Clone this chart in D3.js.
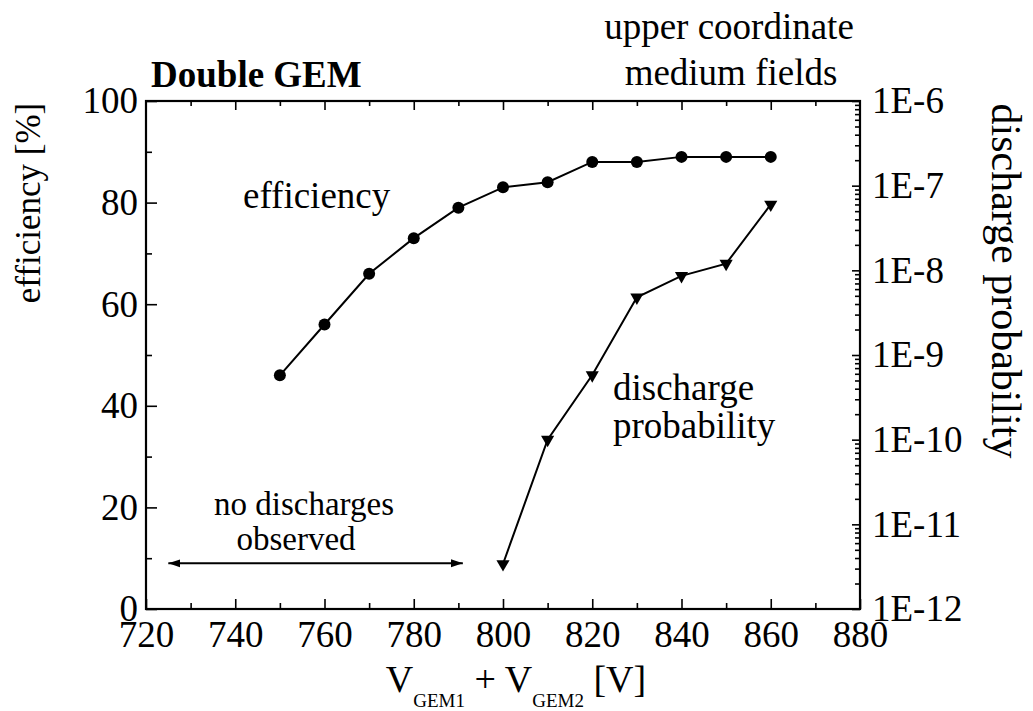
<!DOCTYPE html>
<html>
<head>
<meta charset="utf-8">
<script src="https://cdn.jsdelivr.net/npm/d3@7"></script>
<style>
  body { margin: 0; background: #fff; }
  svg text { font-family: "Liberation Serif", "Times New Roman", serif; fill: #000; }
</style>
</head>
<body>
<svg id="chart"></svg>
<script>
const width = 1033;
const height = 711;
const margin = {left: 146, right: 173, top: 101, bottom: 102};

// efficiency curve (left axis, %)
const eff_volts = [750, 760, 770, 780, 790, 800, 810, 820, 830, 840, 850, 860];
const eff_vals = [46, 56, 66, 73, 79, 83, 84, 88, 88, 89, 89, 89];

// discharge probability (right axis, log)
const dis_volts = [800, 810, 820, 830, 840, 850, 860];
const dis_vals = [3.4e-12, 1.0e-10, 5.8e-10, 4.8e-9, 8.6e-9, 1.2e-8, 6.0e-8];

// "no discharges observed" arrow: voltage span, efficiency level
const arrow_span = [725, 791];
const arrow_level = 9;

const x_domain = [720, 880];
const y_left_domain = [0, 100];
const y_right_domain = [1e-12, 1e-6];

const svg = d3.select('#chart')
    .attr('width', width)
    .attr('height', height);

const x = d3.scaleLinear(x_domain, [margin.left, width - margin.right]);
const yL = d3.scaleLinear(y_left_domain, [height - margin.bottom, margin.top]);
const yR = d3.scaleLog(y_right_domain, [height - margin.bottom, margin.top]);

const x0 = margin.left, x1 = width - margin.right;
const y0 = height - margin.bottom, y1 = margin.top;

const tickFont = '37px';

function styleAxis(g) {
    g.select('.domain').remove();
    g.selectAll('line').attr('stroke', '#000').attr('stroke-width', 1.6);
    g.selectAll('text').style('font-size', tickFont).attr('fill', '#000');
}

// minor ticks
svg.append('g').attr('transform', `translate(${x0},0)`)
    .call(d3.axisLeft(yL).tickValues(d3.range(10, 100, 20)).tickSize(-6).tickFormat(''))
    .call(styleAxis);
svg.append('g').attr('transform', `translate(0,${y0})`)
    .call(d3.axisBottom(x).tickValues(d3.range(730, 880, 20)).tickSize(-6).tickFormat(''))
    .call(styleAxis);
svg.append('g').attr('transform', `translate(0,${y1})`)
    .call(d3.axisTop(x).tickValues(d3.range(730, 880, 20)).tickSize(-5).tickFormat(''))
    .call(styleAxis);

// major ticks
svg.append('g').attr('transform', `translate(${x0},0)`)
    .call(d3.axisLeft(yL).tickValues(d3.range(0, 101, 20)).tickSize(-11).tickPadding(8))
    .call(styleAxis);
svg.append('g').attr('transform', `translate(0,${y0})`)
    .call(d3.axisBottom(x).tickValues(d3.range(720, 881, 20)).tickSize(-10).tickPadding(12))
    .call(styleAxis);
svg.append('g').attr('transform', `translate(0,${y1})`)
    .call(d3.axisTop(x).tickValues(d3.range(740, 880, 20)).tickSize(-9).tickFormat(''))
    .call(styleAxis);

// right log axis
const decades = d3.range(-12, -5).map(e => Math.pow(10, e));
const minors = yR.ticks().filter(v => Math.abs(Math.log10(v) - Math.round(Math.log10(v))) > 1e-6);
svg.append('g').attr('transform', `translate(${x1},0)`)
    .call(d3.axisRight(yR).tickValues(minors).tickSize(-5).tickFormat(''))
    .call(styleAxis);
svg.append('g').attr('transform', `translate(${x1},0)`)
    .call(d3.axisRight(yR).tickValues(decades).tickSize(-8).tickPadding(12)
        .tickFormat(d => '1E' + Math.round(Math.log10(d))))
    .call(styleAxis);

// frame
svg.append('rect')
    .attr('x', x0).attr('y', y1)
    .attr('width', x1 - x0).attr('height', y0 - y1)
    .attr('fill', 'none').attr('stroke', '#000').attr('stroke-width', 2.2);

// efficiency line
const effData = eff_volts.map((v, i) => [v, eff_vals[i]]);
svg.append('path')
    .datum(effData)
    .attr('d', d3.line().x(d => x(d[0])).y(d => yL(d[1])))
    .attr('fill', 'none').attr('stroke', '#000').attr('stroke-width', 2);
svg.selectAll('.eff_mark')
    .data(effData)
    .enter().append('circle')
    .attr('class', 'eff_mark')
    .attr('cx', d => x(d[0]))
    .attr('cy', d => yL(d[1]))
    .attr('r', 6)
    .attr('fill', '#000');

// discharge line
const disData = dis_volts.map((v, i) => [v, dis_vals[i]]);
svg.append('path')
    .datum(disData)
    .attr('d', d3.line().x(d => x(d[0])).y(d => yR(d[1])))
    .attr('fill', 'none').attr('stroke', '#000').attr('stroke-width', 2);
svg.selectAll('.dis_mark')
    .data(disData)
    .enter().append('path')
    .attr('class', 'dis_mark')
    .attr('d', d3.symbol(d3.symbolTriangle, 75))
    .attr('transform', d => `translate(${x(d[0])},${yR(d[1])}) rotate(180)`)
    .attr('fill', '#000');

// arrow
const defs = svg.append('defs');
defs.append('marker')
    .attr('id', 'arrowhead')
    .attr('viewBox', '0 -5 12 10')
    .attr('refX', 12).attr('refY', 0)
    .attr('markerWidth', 12).attr('markerHeight', 10)
    .attr('markerUnits', 'userSpaceOnUse')
    .attr('orient', 'auto-start-reverse')
    .append('path')
    .attr('d', 'M0,-4L12,0L0,4Z')
    .attr('fill', '#000');
svg.append('line')
    .attr('x1', x(arrow_span[0])).attr('x2', x(arrow_span[1]))
    .attr('y1', yL(arrow_level)).attr('y2', yL(arrow_level))
    .attr('stroke', '#000').attr('stroke-width', 2)
    .attr('marker-start', 'url(#arrowhead)')
    .attr('marker-end', 'url(#arrowhead)');

// annotations
function addText(str, tx, ty, size, anchor) {
    return svg.append('text')
        .attr('x', tx).attr('y', ty)
        .attr('text-anchor', anchor || 'start')
        .style('font-size', size)
        .text(str);
}
addText('Double GEM', 151, 87, '37px').style('font-weight', 'bold');
addText('upper coordinate', 729, 39, '37px', 'middle');
addText('medium fields', 731, 85, '37px', 'middle');
addText('efficiency', 243, 208, '37px');
addText('discharge', 613, 400, '37px');
addText('probability', 613, 438, '37px');
addText('no discharges', 304, 515, '33px', 'middle');
addText('observed', 296, 550, '33px', 'middle');

// axis titles
svg.append('text')
    .attr('transform', 'translate(40,203) rotate(-90)')
    .attr('text-anchor', 'middle')
    .style('font-size', '35px')
    .text('efficiency [%]');
svg.append('text')
    .attr('transform', 'translate(992,281) rotate(90)')
    .attr('text-anchor', 'middle')
    .style('font-size', '42px')
    .text('discharge probability');

const xt = svg.append('text')
    .attr('x', 516).attr('y', 692)
    .attr('text-anchor', 'middle')
    .style('font-size', '38px');
xt.append('tspan').text('V');
xt.append('tspan').attr('dy', 15).style('font-size', '19px').text('GEM1');
xt.append('tspan').attr('dy', -15).text(' + V');
xt.append('tspan').attr('dy', 15).style('font-size', '19px').text('GEM2');
xt.append('tspan').attr('dy', -15).text(' [V]');
</script>
</body>
</html>
